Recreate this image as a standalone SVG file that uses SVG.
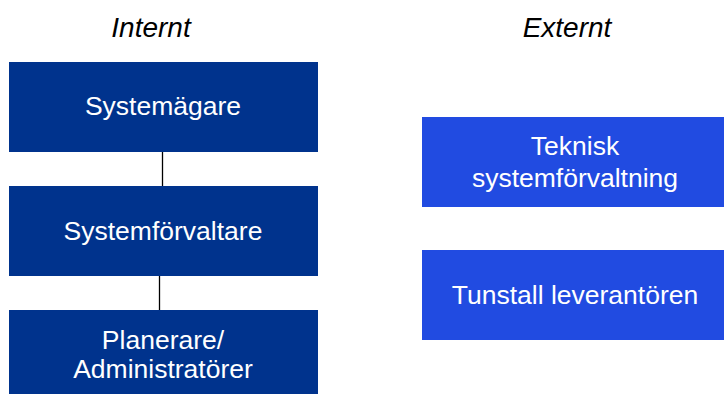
<svg xmlns="http://www.w3.org/2000/svg" width="724" height="394" viewBox="0 0 724 394">
<style>
.int{fill:#00338D}
.ext{fill:#214BE1}
.t{font-family:"Liberation Sans",Arial,sans-serif;font-size:26.5px;fill:#fff;text-anchor:middle}
.h{font-family:"Liberation Sans",Arial,sans-serif;font-size:28px;font-style:italic;fill:#000;text-anchor:middle}
.c{stroke:#000;stroke-width:1.3;fill:none}
</style>
<rect width="724" height="394" fill="#fff"/>
<text class="h" x="151" y="37">Internt</text>
<text class="h" x="567" y="37">Externt</text>
<g id="connectors">
<line class="c" x1="162.5" y1="152" x2="162.5" y2="186"/>
<line class="c" x1="159.5" y1="276" x2="159.5" y2="310"/>
</g>
<g id="systemagare">
<rect class="int" x="9" y="62" width="309" height="90"/>
<text class="t" x="163" y="115">Systemägare</text>
</g>
<g id="systemforvaltare">
<rect class="int" x="9" y="186" width="309" height="90"/>
<text class="t" x="163" y="240">Systemförvaltare</text>
</g>
<g id="planerare">
<rect class="int" x="9" y="310" width="309" height="84"/>
<text class="t" x="163" y="349">Planerare/</text>
<text class="t" x="163" y="378">Administratörer</text>
</g>
<g id="teknisk">
<rect class="ext" x="422" y="117" width="302" height="90"/>
<text class="t" x="575" y="155">Teknisk</text>
<text class="t" x="575" y="187">systemförvaltning</text>
</g>
<g id="tunstall">
<rect class="ext" x="422" y="250" width="302" height="90"/>
<text class="t" x="575" y="304">Tunstall leverantören</text>
</g>
</svg>
